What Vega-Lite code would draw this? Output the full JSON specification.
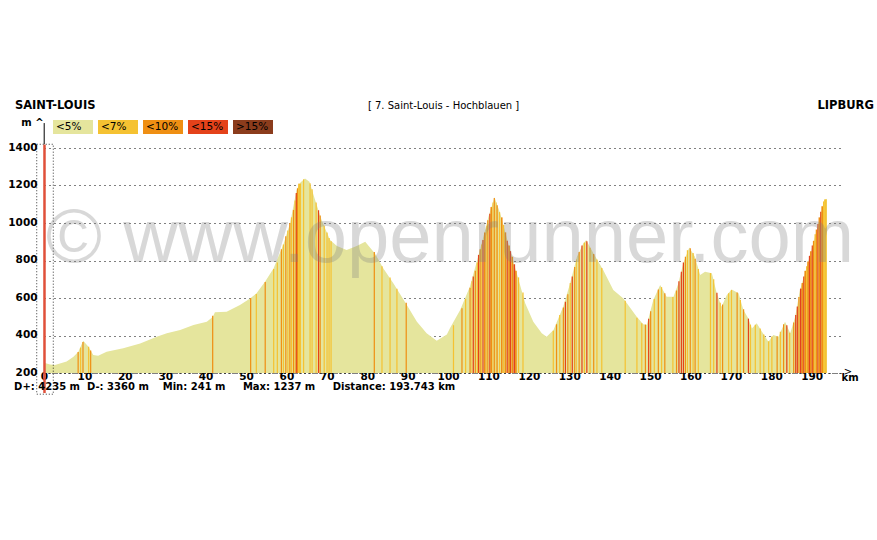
{
  "$schema": "https://vega.github.io/schema/vega-lite/v6.json",
  "autosize": {"type": "none"},
  "padding": {"left": 44, "top": 148, "right": 33, "bottom": 167},
  "width": 800,
  "height": 225,
  "background": "white",
  "config": {
    "font": "DejaVu Sans",
    "view": {"stroke": null},
    "text": {"font": "DejaVu Sans", "color": "#000"},
    "axisY": {"tickCount": 7, "labelOverlap": false, "format": "d"},
    "axisX": {"tickCount": 20, "labelOverlap": false, "format": "d"}
  },
  "datasets": {
    "profile": [
      {"k": 0, "e": 255}, {"k": 1.5, "e": 246}, {"k": 2.7, "e": 243}, {"k": 5.6, "e": 262}, {"k": 7.3, "e": 287},
      {"k": 8.5, "e": 314}, {"k": 9.7, "e": 372}, {"k": 11.0, "e": 340}, {"k": 12.2, "e": 296}, {"k": 13.4, "e": 292},
      {"k": 15.5, "e": 314}, {"k": 19.6, "e": 332}, {"k": 23.8, "e": 358}, {"k": 27.9, "e": 394}, {"k": 30.4, "e": 412},
      {"k": 33.7, "e": 429}, {"k": 37.0, "e": 456}, {"k": 40.3, "e": 474}, {"k": 41.8, "e": 500}, {"k": 42.3, "e": 524},
      {"k": 45.2, "e": 527}, {"k": 48.5, "e": 563}, {"k": 51.0, "e": 598}, {"k": 52.6, "e": 625}, {"k": 54.7, "e": 687},
      {"k": 56.8, "e": 758}, {"k": 59.2, "e": 883}, {"k": 60.9, "e": 998}, {"k": 62.5, "e": 1176}, {"k": 63.4, "e": 1215},
      {"k": 64.6, "e": 1237}, {"k": 65.7, "e": 1220}, {"k": 67.1, "e": 1123}, {"k": 68.7, "e": 1016}, {"k": 70.8, "e": 909},
      {"k": 72.5, "e": 877}, {"k": 74.9, "e": 856}, {"k": 77.4, "e": 877}, {"k": 79.5, "e": 900}, {"k": 81.9, "e": 838},
      {"k": 84.0, "e": 758}, {"k": 86.5, "e": 678}, {"k": 89.8, "e": 563}, {"k": 92.3, "e": 474}, {"k": 94.7, "e": 412},
      {"k": 97.2, "e": 372}, {"k": 99.7, "e": 405}, {"k": 100.5, "e": 440}, {"k": 103.0, "e": 536}, {"k": 105.4, "e": 660},
      {"k": 107.9, "e": 856}, {"k": 110.0, "e": 1034}, {"k": 111.5, "e": 1137}, {"k": 112.9, "e": 1052}, {"k": 114.9, "e": 892},
      {"k": 117.0, "e": 732}, {"k": 119.1, "e": 572}, {"k": 121.1, "e": 474}, {"k": 123.2, "e": 412}, {"k": 124.4, "e": 394},
      {"k": 126.1, "e": 429}, {"k": 128.5, "e": 554}, {"k": 130.2, "e": 678}, {"k": 131.9, "e": 820}, {"k": 133.5, "e": 892},
      {"k": 134.2, "e": 909}, {"k": 136.0, "e": 838}, {"k": 138.4, "e": 749}, {"k": 140.9, "e": 643}, {"k": 143.4, "e": 598},
      {"k": 146.7, "e": 500}, {"k": 148.3, "e": 460}, {"k": 149.2, "e": 458}, {"k": 150.8, "e": 589}, {"k": 152.5, "e": 669},
      {"k": 154.1, "e": 607}, {"k": 155.8, "e": 607}, {"k": 157.0, "e": 678}, {"k": 158.2, "e": 785}, {"k": 159.7, "e": 870},
      {"k": 161.1, "e": 820}, {"k": 162.4, "e": 723}, {"k": 163.6, "e": 740}, {"k": 165.3, "e": 732}, {"k": 166.5, "e": 625},
      {"k": 167.7, "e": 554}, {"k": 169.0, "e": 616}, {"k": 170.2, "e": 646}, {"k": 171.9, "e": 625}, {"k": 173.1, "e": 536},
      {"k": 174.3, "e": 492}, {"k": 175.2, "e": 438}, {"k": 176.4, "e": 465}, {"k": 177.7, "e": 420}, {"k": 179.3, "e": 367},
      {"k": 180.5, "e": 403}, {"k": 181.8, "e": 394}, {"k": 183.4, "e": 474}, {"k": 184.7, "e": 412}, {"k": 185.9, "e": 500},
      {"k": 187.1, "e": 643}, {"k": 188.8, "e": 767}, {"k": 190.4, "e": 892}, {"k": 192.1, "e": 1034}, {"k": 193.1, "e": 1123},
      {"k": 193.74, "e": 1130}
    ],
    "stripes": [
      {"k0": 8.3, "k1": 8.6, "e": 312, "c": "<10%"}, {"k0": 8.9, "k1": 9.2, "e": 335, "c": "<7%"}, {"k0": 9.5, "k1": 9.8, "e": 365, "c": "<10%"},
      {"k0": 10.9, "k1": 11.2, "e": 340, "c": "<7%"}, {"k0": 11.4, "k1": 11.7, "e": 320, "c": "<10%"},
      {"k0": 41.6, "k1": 41.9, "e": 505, "c": "<10%"}, {"k0": 51.0, "k1": 51.3, "e": 600, "c": "<10%"}, {"k0": 52.4, "k1": 52.7, "e": 622, "c": "<7%"},
      {"k0": 54.6, "k1": 54.9, "e": 685, "c": "<10%"}, {"k0": 56.7, "k1": 57.0, "e": 755, "c": "<7%"}, {"k0": 57.6, "k1": 57.9, "e": 790, "c": "<7%"},
      {"k0": 58.6, "k1": 58.9, "e": 860, "c": "<10%"}, {"k0": 59.1, "k1": 59.4, "e": 885, "c": "<7%"}, {"k0": 59.7, "k1": 60.0, "e": 930, "c": "<10%"},
      {"k0": 60.2, "k1": 60.5, "e": 960, "c": "<7%"}, {"k0": 60.7, "k1": 61.0, "e": 1000, "c": "<10%"}, {"k0": 61.1, "k1": 61.4, "e": 1030, "c": "<7%"},
      {"k0": 61.6, "k1": 61.9, "e": 1070, "c": "<10%"}, {"k0": 62.0, "k1": 62.3, "e": 1120, "c": "<7%"}, {"k0": 62.3, "k1": 62.6, "e": 1160, "c": "<15%"},
      {"k0": 62.6, "k1": 62.9, "e": 1185, "c": "<10%"}, {"k0": 62.9, "k1": 63.6, "e": 1210, "c": "<7%"}, {"k0": 64.1, "k1": 64.4, "e": 1233, "c": "<7%"},
      {"k0": 65.7, "k1": 66.0, "e": 1212, "c": "<7%"}, {"k0": 66.2, "k1": 66.5, "e": 1180, "c": "<7%"}, {"k0": 67.2, "k1": 67.5, "e": 1110, "c": "<7%"},
      {"k0": 67.8, "k1": 68.1, "e": 1068, "c": "<15%"}, {"k0": 68.2, "k1": 68.5, "e": 1040, "c": "<10%"}, {"k0": 69.2, "k1": 69.5, "e": 985, "c": "<7%"},
      {"k0": 69.9, "k1": 70.2, "e": 950, "c": "<7%"}, {"k0": 70.4, "k1": 70.7, "e": 920, "c": "<7%"}, {"k0": 70.9, "k1": 71.2, "e": 903, "c": "<7%"},
      {"k0": 81.6, "k1": 81.9, "e": 845, "c": "<10%"}, {"k0": 83.5, "k1": 83.8, "e": 770, "c": "<7%"}, {"k0": 85.5, "k1": 85.8, "e": 710, "c": "<7%"},
      {"k0": 87.2, "k1": 87.5, "e": 650, "c": "<7%"}, {"k0": 89.5, "k1": 89.8, "e": 575, "c": "<10%"},
      {"k0": 101.2, "k1": 101.5, "e": 455, "c": "<7%"}, {"k0": 103.3, "k1": 103.6, "e": 545, "c": "<10%"}, {"k0": 104.2, "k1": 104.5, "e": 595, "c": "<7%"},
      {"k0": 105.3, "k1": 105.6, "e": 655, "c": "<10%"}, {"k0": 105.8, "k1": 106.0, "e": 690, "c": "<7%"}, {"k0": 106.1, "k1": 106.4, "e": 715, "c": "<15%"},
      {"k0": 106.6, "k1": 106.9, "e": 745, "c": "<10%"}, {"k0": 107.1, "k1": 107.4, "e": 790, "c": "<7%"}, {"k0": 107.4, "k1": 107.7, "e": 830, "c": "<15%"},
      {"k0": 107.8, "k1": 108.1, "e": 860, "c": "<10%"}, {"k0": 108.2, "k1": 108.4, "e": 885, "c": "<7%"}, {"k0": 108.5, "k1": 108.8, "e": 910, "c": "<15%"},
      {"k0": 108.9, "k1": 109.3, "e": 950, "c": "<10%"}, {"k0": 109.4, "k1": 109.6, "e": 985, "c": "<7%"}, {"k0": 109.7, "k1": 110.0, "e": 1015, "c": "<10%"},
      {"k0": 110.2, "k1": 110.5, "e": 1050, "c": "<15%"}, {"k0": 110.5, "k1": 110.9, "e": 1085, "c": "<10%"}, {"k0": 111.0, "k1": 111.2, "e": 1110, "c": "<7%"},
      {"k0": 111.3, "k1": 111.6, "e": 1133, "c": "<10%"}, {"k0": 111.8, "k1": 112.0, "e": 1110, "c": "<7%"}, {"k0": 112.0, "k1": 112.3, "e": 1095, "c": "<10%"},
      {"k0": 112.6, "k1": 112.9, "e": 1058, "c": "<7%"}, {"k0": 113.1, "k1": 113.5, "e": 1030, "c": "<10%"}, {"k0": 113.6, "k1": 113.9, "e": 990, "c": "<7%"},
      {"k0": 114.0, "k1": 114.4, "e": 950, "c": "<10%"}, {"k0": 114.5, "k1": 114.8, "e": 905, "c": "<15%"}, {"k0": 114.9, "k1": 115.3, "e": 880, "c": "<10%"},
      {"k0": 115.3, "k1": 115.6, "e": 850, "c": "<15%"}, {"k0": 115.7, "k1": 116.1, "e": 820, "c": "<10%"}, {"k0": 116.2, "k1": 116.6, "e": 780, "c": "<15%"},
      {"k0": 116.6, "k1": 117.0, "e": 745, "c": "<10%"}, {"k0": 117.3, "k1": 117.6, "e": 710, "c": "<7%"}, {"k0": 118.4, "k1": 118.7, "e": 630, "c": "<7%"},
      {"k0": 125.9, "k1": 126.2, "e": 425, "c": "<7%"}, {"k0": 126.7, "k1": 127.0, "e": 460, "c": "<10%"}, {"k0": 127.5, "k1": 127.8, "e": 510, "c": "<7%"},
      {"k0": 128.4, "k1": 128.7, "e": 550, "c": "<10%"}, {"k0": 128.9, "k1": 129.2, "e": 580, "c": "<15%"}, {"k0": 129.5, "k1": 129.8, "e": 620, "c": "<10%"},
      {"k0": 130.1, "k1": 130.4, "e": 680, "c": "<7%"}, {"k0": 130.6, "k1": 130.9, "e": 715, "c": "<15%"}, {"k0": 131.2, "k1": 131.5, "e": 765, "c": "<10%"},
      {"k0": 131.7, "k1": 131.9, "e": 805, "c": "<7%"}, {"k0": 132.3, "k1": 132.6, "e": 845, "c": "<10%"}, {"k0": 133.0, "k1": 133.3, "e": 880, "c": "<15%"},
      {"k0": 133.6, "k1": 133.9, "e": 895, "c": "<7%"}, {"k0": 134.2, "k1": 134.5, "e": 903, "c": "<15%"}, {"k0": 135.0, "k1": 135.3, "e": 868, "c": "<7%"},
      {"k0": 135.9, "k1": 136.2, "e": 835, "c": "<10%"}, {"k0": 136.7, "k1": 137.0, "e": 805, "c": "<7%"}, {"k0": 137.9, "k1": 138.2, "e": 760, "c": "<7%"},
      {"k0": 143.7, "k1": 144.0, "e": 585, "c": "<7%"}, {"k0": 146.6, "k1": 146.9, "e": 495, "c": "<7%"}, {"k0": 147.8, "k1": 148.1, "e": 465, "c": "<7%"},
      {"k0": 148.7, "k1": 149.0, "e": 458, "c": "<10%"}, {"k0": 149.5, "k1": 149.8, "e": 490, "c": "<15%"}, {"k0": 150.0, "k1": 150.3, "e": 530, "c": "<10%"},
      {"k0": 150.9, "k1": 151.2, "e": 595, "c": "<7%"}, {"k0": 151.9, "k1": 152.2, "e": 645, "c": "<10%"}, {"k0": 152.7, "k1": 153.0, "e": 658, "c": "<7%"},
      {"k0": 153.5, "k1": 153.8, "e": 625, "c": "<10%"}, {"k0": 155.5, "k1": 155.8, "e": 605, "c": "<7%"}, {"k0": 156.4, "k1": 156.7, "e": 640, "c": "<10%"},
      {"k0": 157.0, "k1": 157.3, "e": 690, "c": "<15%"}, {"k0": 157.6, "k1": 157.9, "e": 740, "c": "<15%"}, {"k0": 158.1, "k1": 158.4, "e": 790, "c": "<15%"},
      {"k0": 158.6, "k1": 158.9, "e": 820, "c": "<10%"}, {"k0": 159.1, "k1": 159.4, "e": 855, "c": "<7%"}, {"k0": 159.8, "k1": 160.1, "e": 865, "c": "<10%"},
      {"k0": 160.5, "k1": 160.8, "e": 840, "c": "<7%"}, {"k0": 161.0, "k1": 161.3, "e": 810, "c": "<10%"}, {"k0": 161.8, "k1": 162.1, "e": 755, "c": "<7%"},
      {"k0": 164.8, "k1": 165.1, "e": 733, "c": "<7%"}, {"k0": 165.6, "k1": 165.9, "e": 700, "c": "<7%"}, {"k0": 166.4, "k1": 166.7, "e": 628, "c": "<15%"},
      {"k0": 167.2, "k1": 167.5, "e": 575, "c": "<7%"}, {"k0": 167.8, "k1": 168.1, "e": 565, "c": "<10%"}, {"k0": 169.3, "k1": 169.6, "e": 625, "c": "<7%"},
      {"k0": 170.0, "k1": 170.3, "e": 643, "c": "<7%"}, {"k0": 171.4, "k1": 171.7, "e": 630, "c": "<10%"}, {"k0": 172.2, "k1": 172.5, "e": 590, "c": "<7%"},
      {"k0": 173.0, "k1": 173.3, "e": 540, "c": "<10%"}, {"k0": 174.2, "k1": 174.5, "e": 490, "c": "<15%"}, {"k0": 174.7, "k1": 175.0, "e": 458, "c": "<7%"},
      {"k0": 175.9, "k1": 176.2, "e": 458, "c": "<7%"}, {"k0": 177.1, "k1": 177.4, "e": 438, "c": "<7%"}, {"k0": 178.0, "k1": 178.3, "e": 405, "c": "<7%"},
      {"k0": 179.2, "k1": 179.5, "e": 370, "c": "<7%"}, {"k0": 180.0, "k1": 180.3, "e": 395, "c": "<7%"}, {"k0": 181.3, "k1": 181.6, "e": 396, "c": "<10%"},
      {"k0": 182.1, "k1": 182.4, "e": 420, "c": "<7%"}, {"k0": 182.9, "k1": 183.2, "e": 460, "c": "<10%"}, {"k0": 183.7, "k1": 184.0, "e": 455, "c": "<15%"},
      {"k0": 184.4, "k1": 184.7, "e": 415, "c": "<7%"}, {"k0": 185.4, "k1": 185.7, "e": 470, "c": "<10%"}, {"k0": 185.9, "k1": 186.2, "e": 510, "c": "<15%"},
      {"k0": 186.3, "k1": 186.6, "e": 555, "c": "<15%"}, {"k0": 186.7, "k1": 187.0, "e": 605, "c": "<10%"}, {"k0": 187.1, "k1": 187.5, "e": 650, "c": "<15%"},
      {"k0": 187.5, "k1": 187.9, "e": 680, "c": "<10%"}, {"k0": 187.9, "k1": 188.2, "e": 715, "c": "<15%"}, {"k0": 188.2, "k1": 188.6, "e": 745, "c": "<10%"},
      {"k0": 188.6, "k1": 188.9, "e": 770, "c": "<7%"}, {"k0": 188.9, "k1": 189.3, "e": 795, "c": "<10%"}, {"k0": 189.3, "k1": 189.6, "e": 825, "c": "<15%"},
      {"k0": 189.6, "k1": 190.0, "e": 850, "c": "<10%"}, {"k0": 190.0, "k1": 190.3, "e": 880, "c": "<15%"}, {"k0": 190.3, "k1": 190.7, "e": 905, "c": "<10%"},
      {"k0": 190.7, "k1": 191.0, "e": 940, "c": "<7%"}, {"k0": 191.0, "k1": 191.4, "e": 965, "c": "<10%"}, {"k0": 191.4, "k1": 191.7, "e": 995, "c": "<15%"},
      {"k0": 191.7, "k1": 192.1, "e": 1030, "c": "<10%"}, {"k0": 192.1, "k1": 192.4, "e": 1060, "c": "<15%"}, {"k0": 192.4, "k1": 192.8, "e": 1090, "c": "<10%"},
      {"k0": 192.8, "k1": 193.1, "e": 1115, "c": "<7%"}, {"k0": 193.1, "k1": 193.74, "e": 1126, "c": "<7%"}
    ]
  },
  "layer": [
    {
      "data": {"name": "profile"},
      "mark": {"type": "area", "color": "#e5e59d", "interpolate": "linear"},
      "encoding": {
        "x": {
          "field": "k", "type": "quantitative",
          "scale": {"domain": [0, 198], "nice": false, "zero": false},
          "axis": {
            "title": null, "values": [0, 10, 20, 30, 40, 50, 60, 70, 80, 90, 100, 110, 120, 130, 140, 150, 160, 170, 180, 190],
            "grid": false, "ticks": false, "domainDash": [1, 3], "domainColor": "#000", "domainWidth": 1,
            "labelFontSize": 10.5, "labelFontWeight": "bold", "labelColor": "#000", "labelPadding": -2,
            "labelFlush": false, "labelOverlap": false, "labelFont": "DejaVu Sans", "format": "d"
          }
        },
        "y": {
          "field": "e", "type": "quantitative",
          "scale": {"domain": [200, 1400], "nice": false, "zero": false},
          "axis": {
            "title": null, "values": [200, 400, 600, 800, 1000, 1200, 1400], "tickCount": 7, "format": "d",
            "grid": true, "gridDash": [1, 4], "gridColor": "#000", "gridOpacity": 1,
            "domain": false, "ticks": false, "labelOverlap": false,
            "labelFontSize": 10.5, "labelFontWeight": "bold", "labelColor": "#000", "labelPadding": 7,
            "labelFont": "DejaVu Sans", "labelOffset": -1
          }
        },
        "y2": {"datum": 200}
      }
    },
    {
      "data": {"name": "stripes"},
      "mark": {"type": "rect"},
      "encoding": {
        "x": {"field": "k0", "type": "quantitative"},
        "x2": {"field": "k1"},
        "y": {"field": "e", "type": "quantitative"},
        "y2": {"datum": 200},
        "color": {
          "field": "c", "type": "nominal",
          "scale": {"domain": ["<5%", "<7%", "<10%", "<15%", ">15%"], "range": ["#e5e59d", "#f5c232", "#ef8f13", "#e4421a", "#8b3c1c"]},
          "legend": {
            "orient": "none", "legendX": 9, "legendY": -41, "direction": "horizontal", "title": null,
            "padding": 0, "symbolType": "M-1,-0.35H1V0.35H-1Z", "symbolSize": 1600, "symbolStrokeWidth": 0,
            "symbolOpacity": 1, "labelOffset": -37, "labelFontSize": 10.5, "labelFont": "DejaVu Sans",
            "labelColor": "#000", "columnPadding": 5, "labelLimit": 60
          }
        }
      }
    },
    {
      "data": {"values": [{}]},
      "mark": {"type": "rect", "filled": false, "stroke": "#000", "strokeWidth": 1, "strokeDash": [1, 2], "opacity": 0.8},
      "encoding": {"x": {"datum": -1.8}, "x2": {"datum": 2.3}, "y": {"datum": 1420}, "y2": {"datum": 87}}
    },
    {
      "data": {"values": [{}]},
      "mark": {"type": "rule", "color": "#e0503a", "strokeWidth": 2.5},
      "encoding": {"x": {"datum": 0.12}, "y": {"datum": 1418}, "y2": {"datum": 93}}
    },
    {
      "data": {"values": [{}]},
      "mark": {"type": "rule", "color": "#000", "strokeWidth": 1},
      "encoding": {"x": {"datum": 0.05}, "y": {"datum": 1420}, "y2": {"datum": 1533}}
    },
    {
      "data": {"values": [{}]},
      "mark": {"type": "text", "text": "m ^", "align": "right", "baseline": "alphabetic", "fontSize": 10, "fontWeight": "bold"},
      "encoding": {"x": {"datum": -0.1}, "y": {"datum": 1518}}
    },
    {
      "data": {"values": [{}]},
      "mark": {"type": "text", "text": "SAINT-LOUIS", "align": "left", "baseline": "middle", "fontSize": 11.5, "fontWeight": "bold"},
      "encoding": {"x": {"datum": -7.2}, "y": {"datum": 1624}}
    },
    {
      "data": {"values": [{}]},
      "mark": {"type": "text", "text": "[ 7. Saint-Louis - Hochblauen ]", "align": "center", "baseline": "middle", "fontSize": 10},
      "encoding": {"x": {"datum": 98.9}, "y": {"datum": 1624}}
    },
    {
      "data": {"values": [{}]},
      "mark": {"type": "text", "text": "LIPBURG", "align": "right", "baseline": "middle", "fontSize": 11.5, "fontWeight": "bold"},
      "encoding": {"x": {"datum": 205.4}, "y": {"datum": 1624}}
    },
    {
      "data": {"values": [{}]},
      "mark": {"type": "text", "text": "D+: 4235 m\u00a0\u00a0D-: 3360 m\u00a0\u00a0\u00a0\u00a0Min: 241 m\u00a0\u00a0\u00a0\u00a0\u00a0Max: 1237 m\u00a0\u00a0\u00a0\u00a0\u00a0Distance: 193.743 km", "align": "left", "baseline": "middle", "fontSize": 10, "fontWeight": "bold"},
      "encoding": {"x": {"datum": -7.4}, "y": {"datum": 127}}
    },
    {
      "data": {"values": [{}]},
      "mark": {"type": "text", "text": ">", "align": "center", "baseline": "middle", "fontSize": 10},
      "encoding": {"x": {"datum": 199.0}, "y": {"datum": 205}}
    },
    {
      "data": {"values": [{}]},
      "mark": {"type": "text", "text": "km", "align": "center", "baseline": "middle", "fontSize": 10, "fontWeight": "bold"},
      "encoding": {"x": {"datum": 199.5}, "y": {"datum": 176}}
    },
    {
      "data": {"values": [{}]},
      "mark": {"type": "text", "text": "© www.openrunner.com", "font": "Liberation Sans", "align": "center", "baseline": "alphabetic", "fontSize": 76, "color": "#808080", "opacity": 0.3},
      "encoding": {"x": {"datum": 100.5}, "y": {"datum": 792}}
    }
  ]
}
